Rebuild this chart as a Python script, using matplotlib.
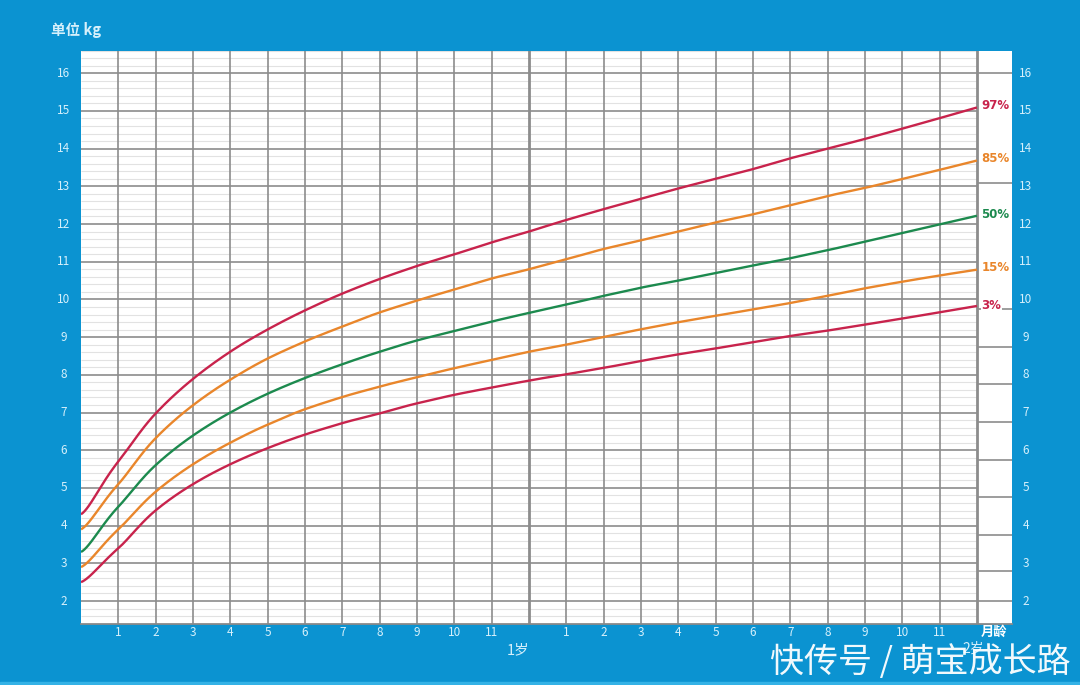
import numpy as np
import matplotlib
matplotlib.use("Agg")
import matplotlib.pyplot as plt
from matplotlib.transforms import blended_transform_factory

plt.rcParams['font.family'] = ['Noto Sans CJK SC', 'DejaVu Sans']

# ---------------- data ----------------
months = list(range(0, 25))
p3  = [2.5, 3.4, 4.4, 5.1, 5.6, 6.1, 6.4, 6.7, 7.0, 7.2, 7.5, 7.7, 7.8,
       8.0, 8.2, 8.4, 8.5, 8.7, 8.9, 9.0, 9.2, 9.3, 9.5, 9.7, 9.8]
p15 = [2.9, 3.9, 4.9, 5.6, 6.2, 6.7, 7.1, 7.4, 7.7, 7.9, 8.2, 8.4, 8.6,
       8.8, 9.0, 9.2, 9.4, 9.6, 9.7, 9.9, 10.1, 10.3, 10.5, 10.6, 10.8]
p50 = [3.3, 4.5, 5.6, 6.4, 7.0, 7.5, 7.9, 8.3, 8.6, 8.9, 9.2, 9.4, 9.6,
       9.9, 10.1, 10.3, 10.5, 10.7, 10.9, 11.1, 11.3, 11.5, 11.8, 12.0, 12.2]
p85 = [3.9, 5.1, 6.3, 7.2, 7.9, 8.4, 8.9, 9.3, 9.6, 10.0, 10.3, 10.5, 10.8,
       11.1, 11.3, 11.6, 11.8, 12.0, 12.3, 12.5, 12.7, 13.0, 13.2, 13.4, 13.7]
p97 = [4.3, 5.7, 7.0, 7.9, 8.6, 9.2, 9.7, 10.2, 10.5, 10.9, 11.2, 11.5, 11.8,
       12.1, 12.4, 12.7, 12.9, 13.2, 13.5, 13.7, 14.0, 14.3, 14.5, 14.8, 15.1]
series_labels = ['97%', '85%', '50%', '15%', '3%']
y_ticks = list(range(2, 17))
month_labels = [str(i) for i in range(1, 12)]

# ---------------- style ----------------
BG = '#0B93D1'
TXT = '#D6F0FB'
RED = '#C8234C'
ORANGE = '#E9862B'
GREEN = '#1C8A4E'
colors = [RED, ORANGE, GREEN, ORANGE, RED]
series = [p97, p85, p50, p15, p3]
strip_lines = [16, 13.1, 9.75, 8.75, 7.75, 6.75, 5.75, 4.75, 3.75, 2.8, 2.0]


def smooth(x, y, n=30, start_scale=0.3, raw_upto=2, fit_from=1, half=3):
    """Smooth curve through the points, built in log(month+1) space:
    local quadratic fits remove rounding jitter, cubic Hermite joins them."""
    x = np.asarray(x, float)
    y = np.asarray(y, float)
    u = np.log(x + 1.0)
    N = len(x)
    v = y.copy()
    m = np.zeros_like(y)
    m[1:-1] = (y[2:] - y[:-2]) / (u[2:] - u[:-2])
    m[0] = start_scale * (y[1] - y[0]) / (u[1] - u[0])
    m[-1] = (y[-1] - y[-2]) / (u[-1] - u[-2])
    for i in range(raw_upto, N):
        lo = max(fit_from, i - half)
        hi = min(N - 1, i + half)
        if hi - lo < 2 * half:
            if lo == fit_from:
                hi = min(N - 1, lo + 2 * half)
            else:
                lo = max(fit_from, hi - 2 * half)
        uu = u[lo:hi + 1] - u[i]
        c = np.polyfit(uu, y[lo:hi + 1], 2)
        v[i] = c[2]
        m[i] = c[1]
    us, ys = [], []
    for i in range(N - 1):
        h = u[i + 1] - u[i]
        t = np.linspace(0, 1, n, endpoint=(i == N - 2))
        h00 = 2 * t**3 - 3 * t**2 + 1
        h10 = t**3 - 2 * t**2 + t
        h01 = -2 * t**3 + 3 * t**2
        h11 = t**3 - t**2
        us.append(u[i] + t * h)
        ys.append(h00 * v[i] + h10 * h * m[i] + h01 * v[i + 1] + h11 * h * m[i + 1])
    return np.exp(np.concatenate(us)) - 1.0, np.concatenate(ys)


fig = plt.figure(figsize=(10.8, 6.85), dpi=100, facecolor=BG)
ax = fig.add_axes([81 / 1080, 1 - 624 / 685, (1012 - 81) / 1080, (624 - 51) / 685])
ax.set_facecolor('white')
XMAX = 24.94
ax.set_xlim(0, XMAX)
ax.set_ylim(1.39, 16.59)
for s in ['top', 'left', 'right']:
    ax.spines[s].set_visible(False)
ax.spines['bottom'].set_color('#8a8a8a')
ax.spines['bottom'].set_linewidth(1.3)
ax.set_xticks([])
ax.set_yticks([])

# minor horizontal lines every 0.2 kg
minor = [v for v in np.arange(1.4, 16.61, 0.2) if abs(v - round(v)) > 0.05]
ax.hlines(minor, 0, 24, colors='#e2e2e2', lw=0.8, zorder=1)
# major horizontal lines
ax.hlines(y_ticks, 0, 24, colors='#8c8c8c', lw=1.2, zorder=2)
ax.hlines(strip_lines, 24, XMAX, colors='#8c8c8c', lw=1.2, zorder=2)
# vertical month lines
for mth in range(1, 25):
    lw = 2.0 if mth in (12, 24) else 1.2
    ax.axvline(mth, color='#8c8c8c', lw=lw, zorder=2)

# curves
for ys, c, lab in zip(series, colors, series_labels):
    sx, sy = smooth(months, ys)
    ax.plot(sx, sy, color=c, lw=1.7, zorder=3, solid_capstyle='butt')
    ax.text(24.12, ys[-1] + 0.05, lab, color=c, fontsize=8.5, fontweight='bold',
            ha='left', va='center', zorder=4, family=['DejaVu Sans'],
            bbox=dict(facecolor='white', edgecolor='none', pad=0.5))

# y tick labels both sides
tl = blended_transform_factory(fig.transFigure, ax.transData)
for v in y_ticks:
    fig.text(64 / 1080, v, str(v), transform=tl, color=TXT, fontsize=8.5,
             ha='center', va='center')
    fig.text(1026 / 1080, v, str(v), transform=tl, color=TXT, fontsize=8.5,
             ha='center', va='center')

# month labels
tb = blended_transform_factory(ax.transData, fig.transFigure)
for i, lab in enumerate(month_labels):
    for off in (0, 12):
        fig.text(i + 1 + off, 1 - 632 / 685, lab, transform=tb, color=TXT,
                 fontsize=8.5, ha='center', va='center')
fig.text(11.7, 1 - 650 / 685, '1岁', transform=tb, color=TXT, fontsize=10.5,
         ha='center', va='center')
fig.text(23.9, 1 - 649 / 685, '2岁', transform=tb, color=TXT, fontsize=10,
         ha='center', va='center')
fig.text(24.45, 1 - 632 / 685, '月龄', transform=tb, color='white', fontsize=9.5,
         fontweight='bold', ha='center', va='center')

fig.text(76 / 1080, 1 - 30 / 685, '单位 kg', color=TXT, fontsize=10.5,
         fontweight='bold', ha='center', va='center')

# watermark
fig.text(1071 / 1080, 1 - 662 / 685, '快传号 / 萌宝成长路', color='white',
         fontsize=24.5, ha='right', va='center', alpha=0.95)

# lighter bottom strip
fig.patches.append(plt.Rectangle((0, 0), 1, 3 / 685, transform=fig.transFigure,
                                 color='#34B2E6', zorder=0))

fig.savefig('out.png', dpi=100, facecolor=BG)
